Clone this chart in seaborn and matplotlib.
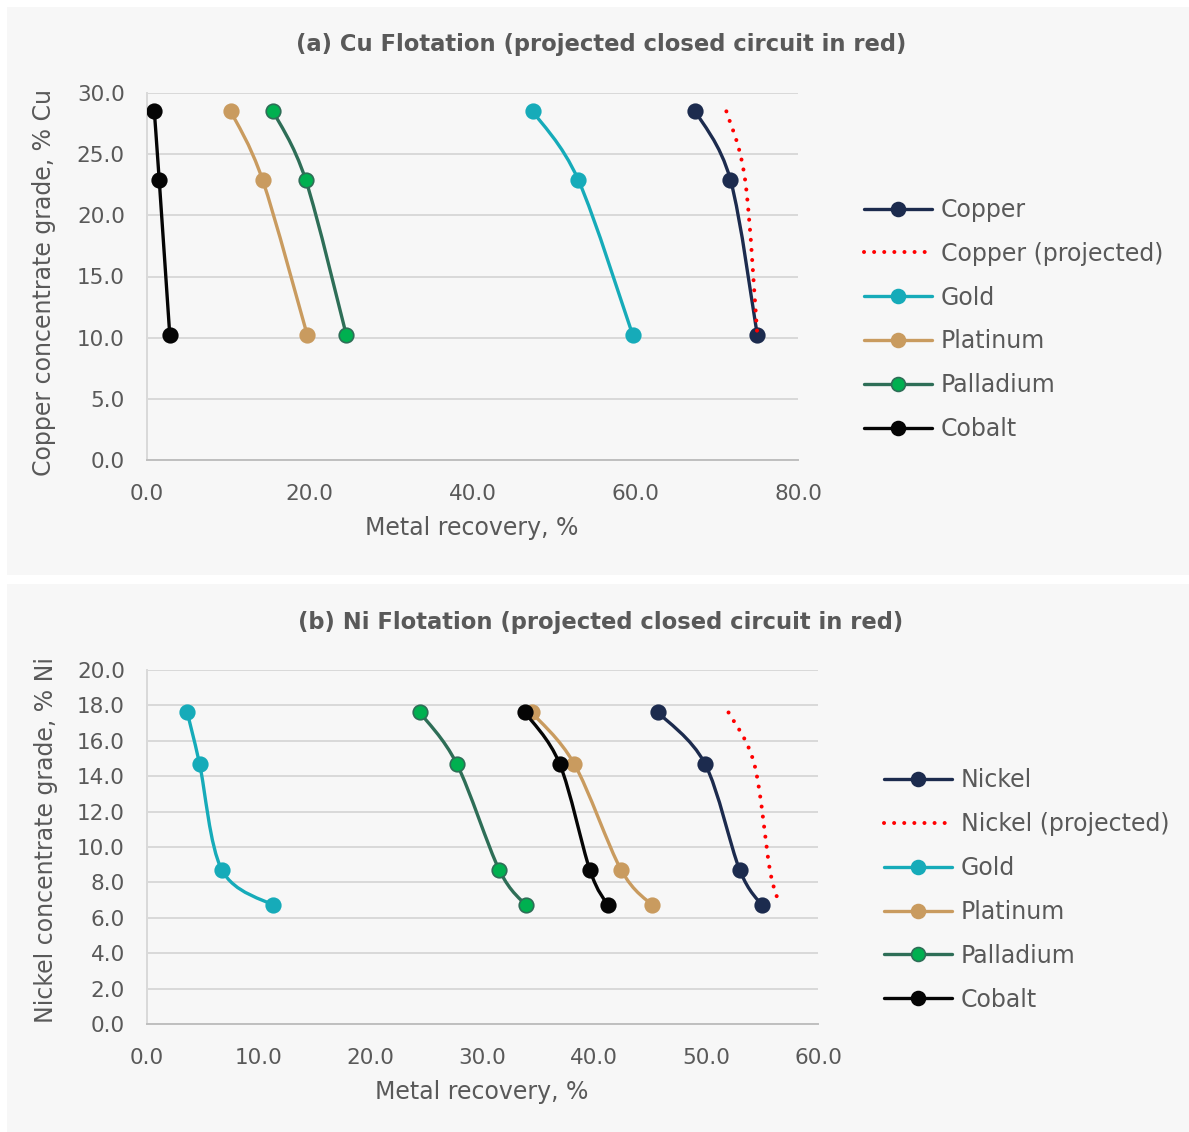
import numpy as np
import pandas as pd
import matplotlib
matplotlib.use("Agg")
import matplotlib.pyplot as plt
from matplotlib.path import Path
from matplotlib.patches import PathPatch, Rectangle
from matplotlib.lines import Line2D
from matplotlib.ticker import FormatStrFormatter, MultipleLocator
import seaborn as sns

# ---- Cu flotation: metal recovery (%) at each copper concentrate grade (% Cu)
cu_grade = [28.5, 22.9, 10.2]
cu_copper = [67.4, 71.7, 75.0]
cu_copper_projected = [71.2, 73.5, 75.0]
cu_gold = [47.4, 53.0, 59.7]
cu_platinum = [10.3, 14.2, 19.7]
cu_palladium = [15.5, 19.5, 24.5]
cu_cobalt = [0.9, 1.5, 2.8]

# ---- Ni flotation: metal recovery (%) at each nickel concentrate grade (% Ni)
ni_grade = [17.6, 14.7, 8.7, 6.7]
ni_nickel = [45.7, 49.9, 53.0, 55.0]
ni_nickel_projected = [52.0, 54.3, 55.7, 56.6]
ni_gold = [3.6, 4.7, 6.7, 11.3]
ni_platinum = [34.4, 38.2, 42.4, 45.2]
ni_palladium = [24.4, 27.7, 31.5, 33.9]
ni_cobalt = [33.8, 36.9, 39.6, 41.2]

NAVY = "#1c2b4e"
TEAL = "#16abb9"
TAN = "#c99b5f"
DKGREEN = "#2e6e57"
GREEN = "#00b050"
BLACK = "#050505"
RED = "#ff0000"
TEXT = "#595959"
GRID = "#d9d9d9"

W, H = 1189, 1132
FS_TICK = 15.5
FS_LAB = 17
FS_LEG = 17
FS_TITLE = 16.3
DOTS = (0, (0.01, 2.5))

sns.set_theme(style="white")
plt.rcParams["font.family"] = ["DejaVu Sans"]

fig = plt.figure(figsize=(W / 100, H / 100), dpi=100, facecolor="white")

# grey panel backgrounds
for y0, y1 in [(7, 575), (584, 1132)]:
    fig.patches.append(Rectangle((7 / W, 1 - y1 / H), (W - 7) / W, (y1 - y0) / H,
                                 transform=fig.transFigure, facecolor="#f7f7f7",
                                 edgecolor="none", zorder=-10))


def smooth_path(xs, ys):
    """Cubic Bezier path through the points (Catmull-Rom style smoothing)."""
    pts = np.column_stack([xs, ys]).astype(float)
    n = len(pts)
    verts = [pts[0]]
    codes = [Path.MOVETO]
    for i in range(n - 1):
        p0 = pts[max(i - 1, 0)]
        p1 = pts[i]
        p2 = pts[i + 1]
        p3 = pts[min(i + 2, n - 1)]
        c1 = p1 + (p2 - p0) / 6.0
        c2 = p2 - (p3 - p1) / 6.0
        verts += [c1, c2, p2]
        codes += [Path.CURVE4] * 3
    return Path(verts, codes)


def draw_series(ax, xs, ys, color, z, face=None, marker=True, dotted=False):
    path = smooth_path(xs, ys)
    patch = PathPatch(path, facecolor="none", edgecolor=color,
                      lw=2.9 if dotted else 2.4,
                      linestyle=DOTS if dotted else "solid",
                      capstyle="round", joinstyle="round",
                      transform=ax.transData, zorder=z)
    ax.add_patch(patch)
    if marker:
        df = pd.DataFrame({"x": xs, "y": ys})
        sns.scatterplot(data=df, x="x", y="y", ax=ax, color=face or color, s=110,
                        edgecolor=color, linewidth=1.2, zorder=z + 0.5, legend=False)


def legend_handles(specs):
    handles = []
    for c, mfc, dotted in specs:
        if dotted:
            h = Line2D([], [], color=c, lw=2.9, linestyle=DOTS,
                       dash_capstyle="round")
        else:
            h = Line2D([], [], color=c, lw=2.4, marker="o", markersize=10,
                       markerfacecolor=mfc, markeredgecolor=c, markeredgewidth=1.2)
        handles.append(h)
    return handles


def style_axes(ax, xmax, xstep, ymax, ystep, xlabel, ylabel, xlc, ylc):
    ax.set_facecolor("none")
    ax.set_xlim(0, xmax)
    ax.set_ylim(0, ymax)
    ax.xaxis.set_major_locator(MultipleLocator(xstep))
    ax.yaxis.set_major_locator(MultipleLocator(ystep))
    ax.xaxis.set_major_formatter(FormatStrFormatter("%.1f"))
    ax.yaxis.set_major_formatter(FormatStrFormatter("%.1f"))
    ax.grid(axis="y", color=GRID, lw=1.4)
    ax.grid(axis="x", visible=False)
    ax.set_axisbelow(True)
    for s in ["top", "right"]:
        ax.spines[s].set_visible(False)
    ax.spines["left"].set_color(GRID)
    ax.spines["left"].set_linewidth(1.4)
    ax.spines["bottom"].set_color("#bfbfbf")
    ax.spines["bottom"].set_linewidth(1.4)
    ax.tick_params(axis="both", length=0, labelsize=FS_TICK, labelcolor=TEXT)
    ax.tick_params(axis="x", pad=17)
    ax.tick_params(axis="y", pad=16)
    ax.set_xlabel(xlabel, fontsize=FS_LAB, color=TEXT)
    ax.set_ylabel(ylabel, fontsize=FS_LAB, color=TEXT)
    ax.xaxis.set_label_coords(*xlc)
    ax.xaxis.label.set_va("center")
    ax.yaxis.set_label_coords(*ylc)
    ax.yaxis.label.set_va("center")


specs = [(NAVY, NAVY, False), (RED, RED, True), (TEAL, TEAL, False),
         (TAN, TAN, False), (DKGREEN, GREEN, False), (BLACK, BLACK, False)]

# ---------------- (a) Cu flotation ----------------
ax1 = fig.add_axes([147 / W, 1 - 460 / H, (798 - 147) / W, (460 - 93) / H])
draw_series(ax1, cu_copper, cu_grade, NAVY, 3)
draw_series(ax1, cu_copper_projected, cu_grade, RED, 4, marker=False, dotted=True)
draw_series(ax1, cu_gold, cu_grade, TEAL, 5)
draw_series(ax1, cu_platinum, cu_grade, TAN, 6)
draw_series(ax1, cu_palladium, cu_grade, DKGREEN, 7, face=GREEN)
draw_series(ax1, cu_cobalt, cu_grade, BLACK, 8)
style_axes(ax1, 80, 20, 30, 5, "Metal recovery, %", "Copper concentrate grade, % Cu",
           (0.499, -0.185), (-0.158, 0.485))

cu_labels = ["Copper", "Copper (projected)", "Gold", "Platinum", "Palladium", "Cobalt"]
fig.legend(handles=legend_handles(specs), labels=cu_labels,
           loc="center left", bbox_to_anchor=(864 / W, 1 - 319.5 / H),
           frameon=False, fontsize=FS_LEG, labelcolor=TEXT, handlelength=2.9,
           handletextpad=0.35, labelspacing=0.84, borderpad=0, borderaxespad=0)

fig.text(601 / W, 1 - 45 / H, "(a) Cu Flotation (projected closed circuit in red)",
         ha="center", va="center", fontsize=FS_TITLE, fontweight="bold", color=TEXT)

# ---------------- (b) Ni flotation ----------------
ax2 = fig.add_axes([147 / W, 1 - 1024 / H, (818 - 147) / W, (1024 - 670) / H])
draw_series(ax2, ni_nickel, ni_grade, NAVY, 3)
draw_series(ax2, ni_nickel_projected, ni_grade, RED, 4, marker=False, dotted=True)
draw_series(ax2, ni_gold, ni_grade, TEAL, 5)
draw_series(ax2, ni_platinum, ni_grade, TAN, 6)
draw_series(ax2, ni_palladium, ni_grade, DKGREEN, 7, face=GREEN)
draw_series(ax2, ni_cobalt, ni_grade, BLACK, 8)
style_axes(ax2, 60, 10, 20, 2, "Metal recovery, %", "Nickel concentrate grade, % Ni",
           (0.499, -0.192), (-0.1505, 0.52))

ni_labels = ["Nickel", "Nickel (projected)", "Gold", "Platinum", "Palladium", "Cobalt"]
fig.legend(handles=legend_handles(specs), labels=ni_labels,
           loc="center left", bbox_to_anchor=(884 / W, 1 - 890 / H),
           frameon=False, fontsize=FS_LEG, labelcolor=TEXT, handlelength=2.9,
           handletextpad=0.35, labelspacing=0.84, borderpad=0, borderaxespad=0)

fig.text(601 / W, 1 - 622 / H, "(b) Ni Flotation (projected closed circuit in red)",
         ha="center", va="center", fontsize=FS_TITLE, fontweight="bold", color=TEXT)

fig.savefig("out.png", dpi=100, facecolor="white")
